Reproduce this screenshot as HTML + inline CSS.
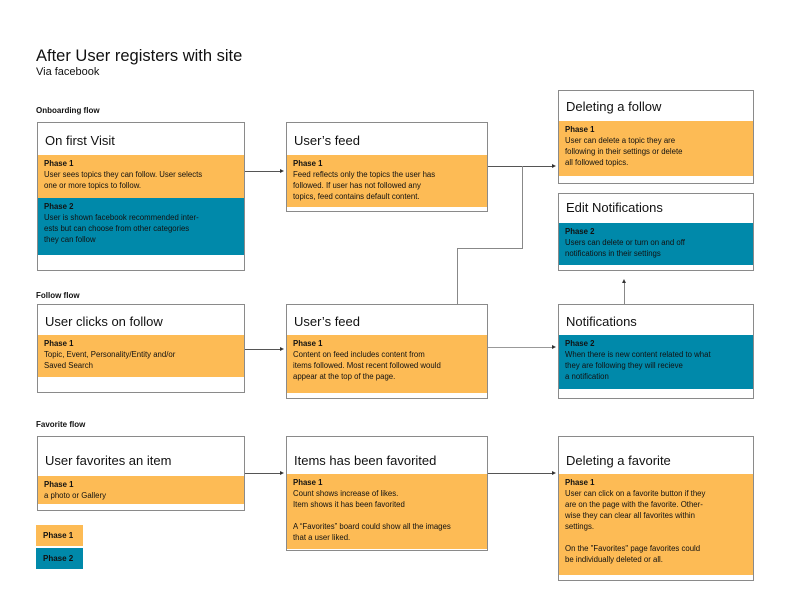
<!DOCTYPE html>
<html><head><meta charset="utf-8"><style>
*{margin:0;padding:0;box-sizing:border-box}
body{width:800px;height:600px;background:#fff;position:relative;font-family:"Liberation Sans",sans-serif;color:#111;overflow:hidden}
.a{position:absolute}
.box{position:absolute;border:1px solid #8a8a8a;background:#fff}
.t{position:absolute;left:7px;font-size:13px;white-space:nowrap}
.p{position:absolute;left:0;right:0;padding:3px 6px 0 6px;font-size:7.8px;line-height:11px}
.p b{display:block}
.o{background:#fdbb55}.g{background:#0089aa}
.lbl{position:absolute;font-size:8px;font-weight:bold}
.h{position:absolute;height:1px;background:#555}
.v{position:absolute;width:1px;background:#888}
.ar{position:absolute;width:0;height:0;border-top:2px solid transparent;border-bottom:2px solid transparent;border-left:4px solid #333}
.au{position:absolute;width:0;height:0;border-left:2px solid transparent;border-right:2px solid transparent;border-bottom:4px solid #333}
</style></head><body>
<div class="a" style="left:36px;top:47px;font-size:16.5px">After User registers with site</div>
<div class="a" style="left:36px;top:66px;font-size:11px">Via facebook</div>
<div class="lbl" style="left:36px;top:106px">Onboarding flow</div>
<div class="lbl" style="left:36px;top:291px">Follow flow</div>
<div class="lbl" style="left:36px;top:420px">Favorite flow</div>

<div class="box" style="left:37px;top:122px;width:208px;height:149px">
<div class="t" style="top:10px">On first Visit</div>
<div class="p o" style="top:32px;height:43px"><b>Phase 1</b>User sees topics they can follow. User selects<br>one or more topics to follow.</div>
<div class="p g" style="top:75px;height:57px"><b>Phase 2</b>User is shown facebook recommended inter-<br>ests but can choose from other categories<br>they can follow</div>
</div>
<div class="box" style="left:286px;top:122px;width:202px;height:90px">
<div class="t" style="top:10px">User’s feed</div>
<div class="p o" style="top:32px;height:52px"><b>Phase 1</b>Feed reflects only the topics the user has<br>followed. If user has not followed any<br>topics, feed contains default content.</div>
</div>
<div class="box" style="left:558px;top:90px;width:196px;height:94px">
<div class="t" style="top:8px">Deleting a follow</div>
<div class="p o" style="top:30px;height:55px"><b>Phase 1</b>User can delete a topic they are<br>following in their settings or delete<br>all followed topics.</div>
</div>
<div class="box" style="left:558px;top:193px;width:196px;height:78px">
<div class="t" style="top:6px">Edit Notifications</div>
<div class="p g" style="top:29px;height:42px"><b>Phase 2</b>Users can delete or turn on and off<br>notifications in their settings</div>
</div>

<div class="box" style="left:37px;top:304px;width:208px;height:89px">
<div class="t" style="top:9px">User clicks on follow</div>
<div class="p o" style="top:30px;height:42px"><b>Phase 1</b>Topic, Event, Personality/Entity and/or<br>Saved Search</div>
</div>
<div class="box" style="left:286px;top:304px;width:202px;height:95px">
<div class="t" style="top:9px">User’s feed</div>
<div class="p o" style="top:30px;height:58px"><b>Phase 1</b>Content on feed includes content from<br>items followed. Most recent followed would<br>appear at the top of the page.</div>
</div>
<div class="box" style="left:558px;top:304px;width:196px;height:95px">
<div class="t" style="top:9px">Notifications</div>
<div class="p g" style="top:30px;height:54px"><b>Phase 2</b>When there is new content related to what<br>they are following they will recieve<br>a notification</div>
</div>

<div class="box" style="left:37px;top:436px;width:208px;height:75px">
<div class="t" style="top:16px">User favorites an item</div>
<div class="p o" style="top:39px;height:28px"><b>Phase 1</b>a photo or Gallery</div>
</div>
<div class="box" style="left:286px;top:436px;width:202px;height:115px">
<div class="t" style="top:16px">Items has been favorited</div>
<div class="p o" style="top:37px;height:75px"><b>Phase 1</b>Count shows increase of likes.<br>Item shows it has been favorited<br><br>A “Favorites” board could show all the images<br>that a user liked.</div>
</div>
<div class="box" style="left:558px;top:436px;width:196px;height:145px">
<div class="t" style="top:16px">Deleting a favorite</div>
<div class="p o" style="top:37px;height:101px"><b>Phase 1</b>User can click on a favorite button if they<br>are on the page with the favorite. Other-<br>wise they can clear all favorites within<br>settings.<br><br>On the  "Favorites" page favorites could<br>be individually deleted or all.</div>
</div>

<div class="a o" style="left:36px;top:525px;width:47px;height:21px;font-size:8px;font-weight:bold;padding:6px 0 0 7px">Phase 1</div>
<div class="a g" style="left:36px;top:548px;width:47px;height:21px;font-size:8px;font-weight:bold;padding:6px 0 0 7px">Phase 2</div>

<div class="h" style="left:245px;top:171px;width:36px"></div><div class="ar" style="left:280px;top:169px"></div>
<div class="h" style="left:488px;top:166px;width:65px"></div><div class="ar" style="left:552px;top:164px"></div>
<div class="v" style="left:522px;top:166px;height:83px"></div>
<div class="h" style="left:457px;top:248px;width:66px;background:#888"></div>
<div class="v" style="left:457px;top:248px;height:56px"></div>
<div class="h" style="left:245px;top:349px;width:36px"></div><div class="ar" style="left:280px;top:347px"></div>
<div class="h" style="left:488px;top:347px;width:65px;background:#999"></div><div class="ar" style="left:552px;top:345px"></div>
<div class="v" style="left:624px;top:282px;height:22px"></div><div class="au" style="left:622px;top:279px"></div>
<div class="h" style="left:245px;top:473px;width:36px"></div><div class="ar" style="left:280px;top:471px"></div>
<div class="h" style="left:488px;top:473px;width:65px"></div><div class="ar" style="left:552px;top:471px"></div>
</body></html>
